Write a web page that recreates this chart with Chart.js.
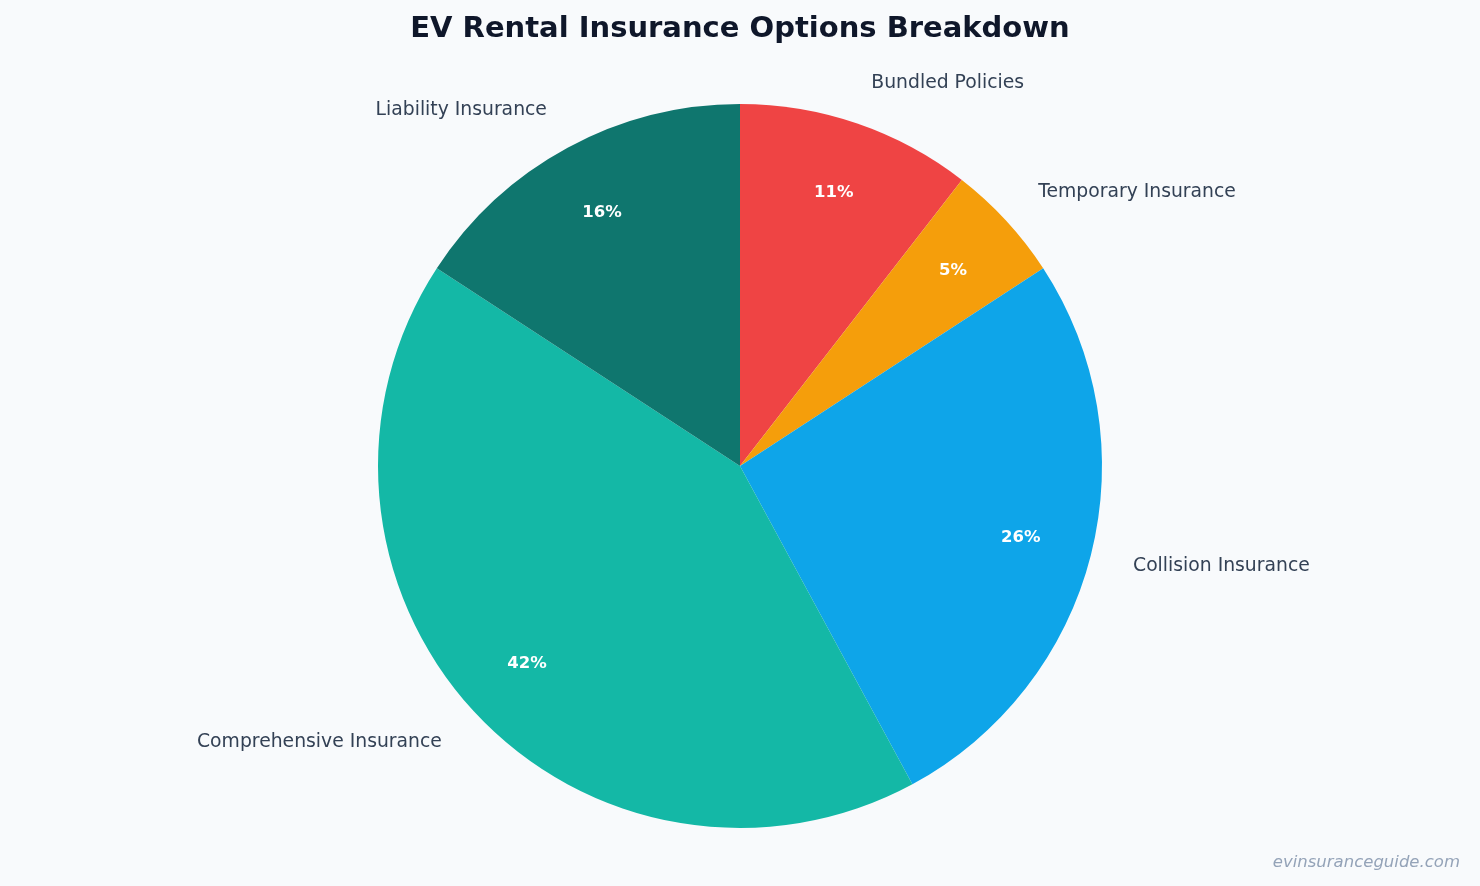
<!DOCTYPE html>
<html>
<head>
    <title>EV Rental Insurance Options Breakdown</title>
    <script src="https://cdn.jsdelivr.net/npm/chart.js@4.4.1/dist/chart.umd.min.js"></script>
    <style>
        html, body {
            margin: 0;
            padding: 0;
            background: #f8fafc;
        }
        #chartBox {
            width: 1480px;
            height: 886px;
            position: relative;
        }
    </style>
</head>
<body>
    <div id="chartBox">
        <canvas id="insuranceChart"></canvas>
    </div>

    <script>
        const categories = [
            'Bundled Policies',
            'Temporary Insurance',
            'Collision Insurance',
            'Comprehensive Insurance',
            'Liability Insurance'
        ];
        const shares = [10.5, 5.3, 26.3, 42.1, 15.8];
        const sliceColors = ['#ef4444', '#f59e0b', '#0ea5e9', '#14b8a6', '#0f766e'];

        const chartTitle = 'EV Rental Insurance Options Breakdown';
        const watermark = 'evinsuranceguide.com';
        const fontFamily = '"DejaVu Sans", Verdana, sans-serif';

        // title, watermark, percentages and outside labels
        const labelPlugin = {
            id: 'sliceLabels',
            afterDraw(chart) {
                const ctx = chart.ctx;
                const meta = chart.getDatasetMeta(0);
                const total = shares.reduce((a, b) => a + b, 0);

                ctx.save();
                ctx.textBaseline = 'middle';

                meta.data.forEach((arc, i) => {
                    const mid = (arc.startAngle + arc.endAngle) / 2;
                    const r = arc.outerRadius;
                    const cos = Math.cos(mid);
                    const sin = Math.sin(mid);

                    ctx.fillStyle = '#ffffff';
                    ctx.font = 'bold 16.5px ' + fontFamily;
                    ctx.textAlign = 'center';
                    ctx.fillText(Math.round(shares[i] / total * 100) + '%', arc.x + cos * r * 0.8, arc.y + sin * r * 0.8 + 1);

                    ctx.fillStyle = '#334155';
                    ctx.font = '18.8px ' + fontFamily;
                    ctx.textAlign = cos >= 0 ? 'left' : 'right';
                    ctx.fillText(categories[i], arc.x + cos * r * 1.12, arc.y + sin * r * 1.12 + 1);
                });

                ctx.fillStyle = '#0f172a';
                ctx.font = 'bold 29px ' + fontFamily;
                ctx.textAlign = 'center';
                ctx.fillText(chartTitle, chart.width / 2, 29);

                ctx.fillStyle = '#94a3b8';
                ctx.font = 'italic 16.5px ' + fontFamily;
                ctx.textAlign = 'right';
                ctx.fillText(watermark, 1460, 863);
                ctx.restore();
            }
        };

        const ctx = document.getElementById('insuranceChart').getContext('2d');
        const insuranceChart = new Chart(ctx, {
            type: 'pie',
            data: {
                labels: categories,
                datasets: [{
                    data: shares,
                    backgroundColor: sliceColors,
                    borderWidth: 0,
                    hoverOffset: 0
                }]
            },
            options: {
                responsive: true,
                maintainAspectRatio: false,
                animation: false,
                layout: {
                    padding: { top: 104, bottom: 58, left: 20, right: 20 }
                },
                plugins: {
                    legend: { display: false },
                    title: { display: false },
                    tooltip: { enabled: true }
                }
            },
            plugins: [labelPlugin]
        });
    </script>
</body>
</html>
